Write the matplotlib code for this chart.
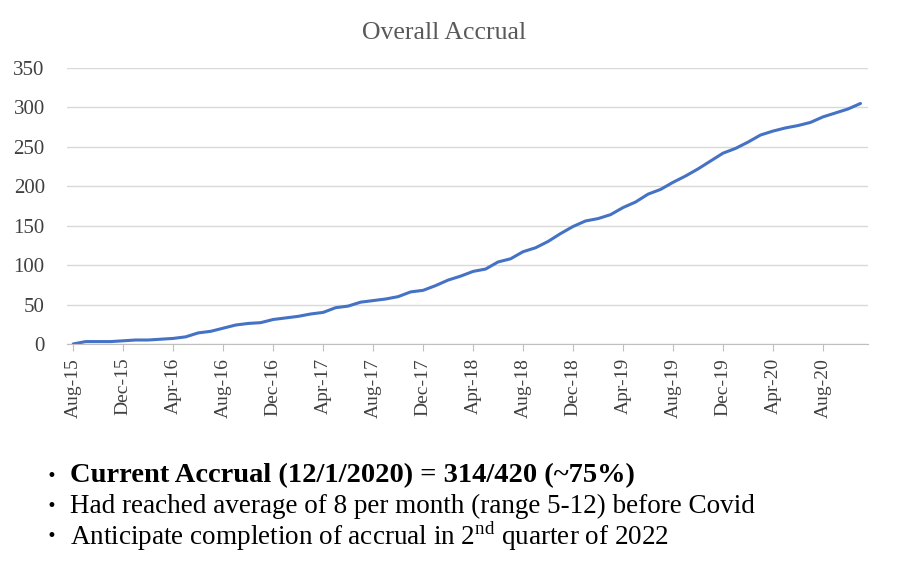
import numpy as np
import matplotlib.pyplot as plt

# monthly cumulative accrual, Aug-15 .. Nov-20
values = [0, 3, 3, 3, 4, 5, 5, 6, 7, 9, 14, 16, 20, 24, 26, 27,
          31, 33, 35, 38, 40, 46, 48, 53, 55, 57, 60, 66, 68, 74, 81, 86,
          92, 95, 104, 108, 117, 122, 130, 140, 149, 156, 159, 164, 173, 180, 190, 196,
          205, 213, 222, 232, 242, 248, 256, 265, 270, 274, 277, 281, 288, 293, 298, 305]
tick_labels = ['Aug-15', 'Dec-15', 'Apr-16', 'Aug-16', 'Dec-16', 'Apr-17', 'Aug-17', 'Dec-17',
               'Apr-18', 'Aug-18', 'Dec-18', 'Apr-19', 'Aug-19', 'Dec-19', 'Apr-20', 'Aug-20']
y_ticks = [0, 50, 100, 150, 200, 250, 300, 350]
bullets = ['Current Accrual (12/1/2020) = 314/420 (~75%)',
           'Had reached average of 8 per month (range 5-12) before Covid',
           'Anticipate completion of accrual in 2$^{\\mathregular{nd}}$ quarter of 2022']

plt.rcParams['font.family'] = ['Liberation Serif', 'DejaVu Serif']

fig = plt.figure(figsize=(8.99, 5.62), dpi=100)
ax = fig.add_axes([0.0745, 0.388, 0.891, 0.491])

x = np.arange(len(values))
ax.plot(x, values, color='#4472C4', linewidth=2.2, solid_capstyle='round')

ax.set_ylim(0, 350)
ax.set_xlim(-0.5, 63.6)
ax.set_yticks(y_ticks)
ax.set_yticklabels([str(v) for v in y_ticks], fontsize=15, color='#404040')
ax.set_xticks(np.arange(0, len(values), 4))
ax.set_xticklabels(tick_labels, rotation=90, fontsize=14, color='#404040')
ax.tick_params(axis='y', length=0, pad=16)
ax.tick_params(axis='x', length=5, color='#bfbfbf', direction='out', pad=5)
ax.grid(axis='y', color='#d9d9d9', linewidth=1)
ax.set_axisbelow(True)
for s in ['top', 'right', 'left']:
    ax.spines[s].set_visible(False)
ax.spines['bottom'].set_color('#bfbfbf')
fig.text(0.494, 0.941, 'Overall Accrual', fontsize=18.5, color='#595959',
         ha='center', va='center')

ys = [0.153, 0.0996, 0.0463]
for i, t in enumerate(bullets):
    fig.text(0.052, ys[i], '\u2022', fontsize=12, va='center', family='DejaVu Sans')
    fig.text(0.078, ys[i], t, fontsize=20.5 if i == 0 else 19.5, va='center',
             fontweight='bold' if i == 0 else 'normal')

fig.savefig('out.png', dpi=100)
